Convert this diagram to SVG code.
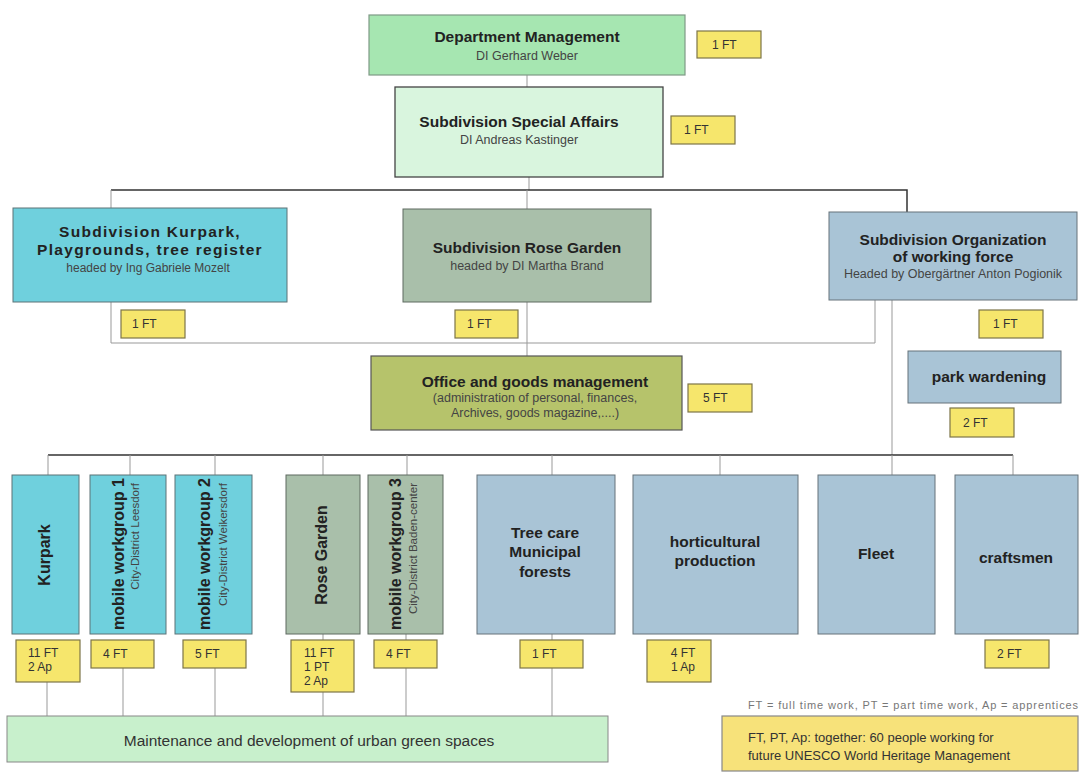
<svg xmlns="http://www.w3.org/2000/svg" width="1080" height="772" viewBox="0 0 1080 772">
<style>
text{font-family:"Liberation Sans",Arial,sans-serif;}
.t{font-weight:bold;font-size:15.5px;fill:#222;text-anchor:middle;}
.s{font-size:12.5px;fill:#444;text-anchor:middle;}
.v{font-weight:bold;font-size:16px;fill:#222;}
.vs{font-size:11.5px;fill:#444;text-anchor:end;}
.ft{font-size:12px;fill:#333;}
.y{fill:#f6e66c;stroke:#7d7548;stroke-width:1.2;}
.cy{fill:#6fd0dd;stroke:#5d7377;stroke-width:1;}
.gg{fill:#a9bfaa;stroke:#5e6a60;stroke-width:1;}
.bl{fill:#a9c4d6;stroke:#66737a;stroke-width:1;}
.ln{stroke:#999;stroke-width:1;fill:none;}
.dk{stroke:#333;stroke-width:1.5;fill:none;}
</style>
<rect width="1080" height="772" fill="#fff"/>
<g id="connectors">
<line class="ln" x1="527" y1="75" x2="527" y2="87"/>
<line class="ln" x1="529" y1="177" x2="529" y2="190"/>
<polyline class="dk" points="111,190 907,190 907,212"/>
<line class="ln" x1="111" y1="190" x2="111" y2="343"/>
<line class="ln" x1="527" y1="190" x2="527" y2="356"/>
<polyline class="ln" points="111,343 875,343 875,300"/>
<line class="ln" x1="892" y1="300" x2="892" y2="455"/>
<line class="dk" x1="48" y1="455" x2="1013" y2="455"/>
<line class="ln" x1="48" y1="455" x2="48" y2="475"/>
<line class="ln" x1="130" y1="455" x2="130" y2="475"/>
<line class="ln" x1="215" y1="455" x2="215" y2="475"/>
<line class="ln" x1="323" y1="455" x2="323" y2="475"/>
<line class="ln" x1="407" y1="455" x2="407" y2="475"/>
<line class="ln" x1="552" y1="455" x2="552" y2="475"/>
<line class="ln" x1="720" y1="455" x2="720" y2="475"/>
<line class="ln" x1="892" y1="455" x2="892" y2="475"/>
<line class="ln" x1="1013" y1="455" x2="1013" y2="475"/>
<line class="ln" x1="47" y1="682" x2="47" y2="716"/>
<line class="ln" x1="123" y1="668" x2="123" y2="716"/>
<line class="ln" x1="215" y1="668" x2="215" y2="716"/>
<line class="ln" x1="323" y1="634" x2="323" y2="716"/>
<line class="ln" x1="406" y1="634" x2="406" y2="716"/>
<line class="ln" x1="552" y1="634" x2="552" y2="716"/>
</g>
<g id="dept">
<rect x="369" y="15" width="316" height="60" fill="#a6e6b1" stroke="#7f9a86" stroke-width="1.2"/>
<text class="t" x="527" y="42">Department Management</text>
<text class="s" x="527" y="60">DI Gerhard Weber</text>
</g>
<g id="dept-ft"><rect class="y" x="697" y="31" width="64" height="27"/><text class="ft" x="712" y="49">1 FT</text></g>
<g id="special">
<rect x="395" y="87" width="268" height="90" fill="#d9f5de" stroke="#444" stroke-width="1.3"/>
<text class="t" x="519" y="127">Subdivision Special Affairs</text>
<text class="s" x="519" y="144">DI Andreas Kastinger</text>
</g>
<g id="special-ft"><rect class="y" x="671" y="116" width="64" height="28"/><text class="ft" x="684" y="134">1 FT</text></g>
<g id="sub-kurpark">
<rect class="cy" x="13" y="208" width="274" height="94"/>
<text class="t" x="150" y="237" style="letter-spacing:1.3px">Subdivision Kurpark,</text>
<text class="t" x="150" y="255" style="letter-spacing:1.3px">Playgrounds, tree register</text>
<text class="s" x="148" y="272" style="font-size:12px">headed by Ing Gabriele Mozelt</text>
</g>
<g id="sub-kurpark-ft"><rect class="y" x="121" y="310" width="64" height="28"/><text class="ft" x="132" y="328">1 FT</text></g>
<g id="sub-rose">
<rect class="gg" x="403" y="209" width="248" height="93"/>
<text class="t" x="527" y="253">Subdivision Rose Garden</text>
<text class="s" x="527" y="270">headed by DI Martha Brand</text>
</g>
<g id="sub-rose-ft"><rect class="y" x="455" y="310" width="63" height="28"/><text class="ft" x="467" y="328">1 FT</text></g>
<g id="sub-org">
<rect class="bl" x="829" y="212" width="248" height="88"/>
<text class="t" x="953" y="245">Subdivision Organization</text>
<text class="t" x="953" y="262">of working force</text>
<text class="s" x="953" y="278">Headed by Obergärtner Anton Pogionik</text>
</g>
<g id="sub-org-ft"><rect class="y" x="979" y="310" width="64" height="28"/><text class="ft" x="993" y="328">1 FT</text></g>
<g id="office">
<rect x="371" y="356" width="311" height="74" fill="#b6c36b" stroke="#555" stroke-width="1.2"/>
<text class="t" x="535" y="387">Office and goods management</text>
<text class="s" x="535" y="402">(administration of personal, finances,</text>
<text class="s" x="535" y="417">Archives, goods magazine,....)</text>
</g>
<g id="office-ft"><rect class="y" x="688" y="384" width="64" height="28"/><text class="ft" x="703" y="402">5 FT</text></g>
<g id="park-wardening">
<rect class="bl" x="908" y="351" width="153" height="52"/>
<text class="t" x="989" y="382">park wardening</text>
</g>
<g id="park-wardening-ft"><rect class="y" x="950" y="408" width="64" height="29"/><text class="ft" x="963" y="427">2 FT</text></g>
<g id="kurpark">
<rect class="cy" x="12" y="475" width="67" height="159"/>
<text class="v" transform="translate(50,555) rotate(-90)" text-anchor="middle">Kurpark</text>
</g>
<g id="kurpark-ft"><rect class="y" x="16" y="640" width="64" height="42"/><text class="ft" x="28" y="657">11 FT</text><text class="ft" x="28" y="671">2 Ap</text></g>
<g id="mw1">
<rect class="cy" x="90" y="475" width="76" height="159"/>
<text class="v" transform="translate(124,554) rotate(-90)" text-anchor="middle">mobile workgroup 1</text>
<text class="vs" transform="translate(139,483) rotate(-90)">City-District Leesdorf</text>
</g>
<g id="mw1-ft"><rect class="y" x="91" y="640" width="63" height="28"/><text class="ft" x="103" y="658">4 FT</text></g>
<g id="mw2">
<rect class="cy" x="175" y="475" width="77" height="159"/>
<text class="v" transform="translate(210,554) rotate(-90)" text-anchor="middle">mobile workgroup 2</text>
<text class="vs" transform="translate(227,483) rotate(-90)">City-District Weikersdorf</text>
</g>
<g id="mw2-ft"><rect class="y" x="183" y="640" width="63" height="28"/><text class="ft" x="195" y="658">5 FT</text></g>
<g id="rose">
<rect class="gg" x="286" y="475" width="74" height="159"/>
<text class="v" transform="translate(327,555) rotate(-90)" text-anchor="middle">Rose Garden</text>
</g>
<g id="rose-ft"><rect class="y" x="291" y="640" width="63" height="52"/><text class="ft" x="304" y="657">11 FT</text><text class="ft" x="304" y="671">1 PT</text><text class="ft" x="304" y="685">2 Ap</text></g>
<g id="mw3">
<rect class="gg" x="368" y="475" width="75" height="159"/>
<text class="v" transform="translate(401,554) rotate(-90)" text-anchor="middle">mobile workgroup 3</text>
<text class="vs" transform="translate(417,483) rotate(-90)">City-District Baden-center</text>
</g>
<g id="mw3-ft"><rect class="y" x="374" y="640" width="63" height="28"/><text class="ft" x="386" y="658">4 FT</text></g>
<g id="treecare">
<rect class="bl" x="477" y="475" width="138" height="159"/>
<text class="t" x="545" y="538">Tree care</text>
<text class="t" x="545" y="557">Municipal</text>
<text class="t" x="545" y="577">forests</text>
</g>
<g id="treecare-ft"><rect class="y" x="520" y="640" width="63" height="28"/><text class="ft" x="532" y="658">1 FT</text></g>
<g id="horti">
<rect class="bl" x="633" y="475" width="165" height="159"/>
<text class="t" x="715" y="547">horticultural</text>
<text class="t" x="715" y="566">production</text>
</g>
<g id="horti-ft"><rect class="y" x="647" y="640" width="64" height="42"/><text class="ft" x="683" y="657" text-anchor="middle">4 FT</text><text class="ft" x="683" y="671" text-anchor="middle">1 Ap</text></g>
<g id="fleet">
<rect class="bl" x="818" y="475" width="117" height="159"/>
<text class="t" x="876" y="559">Fleet</text>
</g>
<g id="craftsmen">
<rect class="bl" x="955" y="475" width="123" height="159"/>
<text class="t" x="1016" y="563">craftsmen</text>
</g>
<g id="craftsmen-ft"><rect class="y" x="985" y="640" width="64" height="28"/><text class="ft" x="997" y="658">2 FT</text></g>
<g id="maintenance">
<rect x="7" y="716" width="601" height="46" fill="#c8f0cc" stroke="#888" stroke-width="1"/>
<text x="309" y="746" font-size="15.5" fill="#333" text-anchor="middle">Maintenance and development of urban green spaces</text>
</g>
<g id="legend">
<text x="748" y="709" font-size="11" fill="#777" textLength="330" lengthAdjust="spacing">FT = full time work, PT = part time work, Ap = apprentices</text>
</g>
<g id="note">
<rect x="722" y="716" width="356" height="55" fill="#f7e27a" stroke="#888" stroke-width="1.2"/>
<text x="748" y="742" font-size="13" fill="#333">FT, PT, Ap: together: 60 people working for</text>
<text x="748" y="760" font-size="13" fill="#333">future UNESCO World Heritage Management</text>
</g>
</svg>
